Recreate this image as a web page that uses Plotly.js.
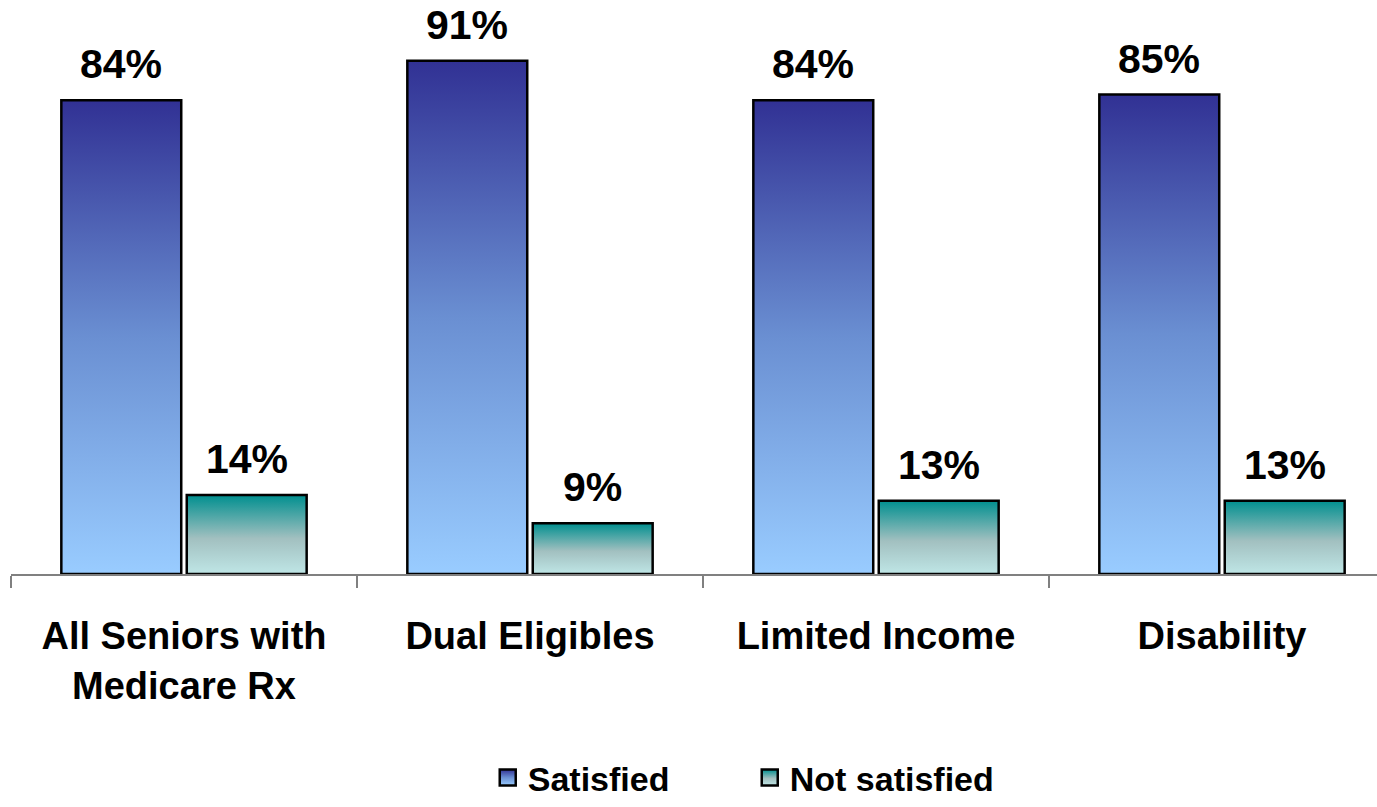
<!DOCTYPE html>
<html>
<head>
<meta charset="utf-8">
<script src="https://cdn.plot.ly/plotly-3.0.1.min.js"></script>
<style>
  html, body { margin: 0; padding: 0; background: #ffffff; }
  #chart { width: 1377px; height: 807px; }
</style>
</head>
<body>
<div id="chart"></div>
<script>
const categories = ["All Seniors with<br>Medicare Rx", "Dual Eligibles", "Limited Income", "Disability"];
const satisfied = [84, 91, 84, 85];
const notSatisfied = [14, 9, 13, 13];
const seriesNames = ["Satisfied", "Not satisfied"];

const FONT = "Liberation Sans, Arial, sans-serif";

const W = 1377, H = 807;
const margin = { l: 11, r: 0, t: 10, b: 233, autoexpand: false };
const xRange = [-0.5, 3.448];
const bargap = 0.275;

const traces = [
  {
    type: "bar", name: seriesNames[0], x: categories, y: satisfied,
    marker: { color: "#6688cc", line: { color: "#000000", width: 2.5 } },
    hoverinfo: "none"
  },
  {
    type: "bar", name: seriesNames[1], x: categories, y: notSatisfied,
    marker: { color: "#80b8b8", line: { color: "#000000", width: 2.5 } },
    hoverinfo: "none"
  }
];

// value labels placed over each bar, derived from the data arrays
const plotW = W - margin.l - margin.r;
const plotH = H - margin.t - margin.b;
const pxPerCat = plotW / (xRange[1] - xRange[0]);
const slotOffset = (1 - bargap) * pxPerCat / 4;
const annotations = [];
[satisfied, notSatisfied].forEach((vals, s) => {
  vals.forEach((v, i) => {
    annotations.push({
      x: categories[i], y: v, xref: "x", yref: "y",
      text: v + "%", showarrow: false,
      xanchor: "center", yanchor: "bottom",
      xshift: (s === 0 ? -1 : 1) * slotOffset, yshift: 11,
      font: { family: FONT, size: 41, color: "#000000", weight: 700 }
    });
  });
});

const layout = {
  width: W, height: H,
  margin: margin,
  paper_bgcolor: "#ffffff", plot_bgcolor: "#ffffff",
  barmode: "group", bargap: bargap, bargroupgap: 0.044,
  showlegend: true,
  font: { family: FONT, color: "#000000" },
  annotations: annotations,
  xaxis: {
    type: "category",
    range: xRange,
    automargin: false,
    showline: true, linecolor: "#808080", linewidth: 1.5,
    ticks: "outside", tickson: "boundaries", ticklen: 12, tickcolor: "#808080", tickwidth: 1.5,
    tickfont: { family: FONT, size: 38, color: "#000000", weight: 700 },
    ticklabelstandoff: 28,
    showgrid: false, zeroline: false, fixedrange: true
  },
  yaxis: {
    range: [0, 100], visible: false, showgrid: false, zeroline: false, fixedrange: true
  },
  legend: {
    orientation: "h", x: 0.349, xanchor: "left",
    y: -margin.b / plotH, yanchor: "bottom",
    font: { family: FONT, size: 34, color: "#000000", weight: 700 },
    itemwidth: 30, entrywidth: 217, entrywidthmode: "pixels",
    bgcolor: "rgba(0,0,0,0)", traceorder: "normal"
  }
};

function addGradients(gd) {
  const svg = gd.querySelector(".main-svg");
  const ns = "http://www.w3.org/2000/svg";
  let defs = svg.querySelector("defs");
  if (!defs) { defs = document.createElementNS(ns, "defs"); svg.insertBefore(defs, svg.firstChild); }
  const grads = [
    { id: "gradSat", stops: [[0, "#313194"], [0.5, "#6a8fd2"], [1, "#99ccff"]] },
    { id: "gradNot", stops: [[0, "#008f8f"], [0.55, "#a2c0c0"], [1, "#bfe6e6"]] }
  ];
  grads.forEach(g => {
    const lg = document.createElementNS(ns, "linearGradient");
    lg.setAttribute("id", g.id);
    lg.setAttribute("x1", "0"); lg.setAttribute("y1", "0");
    lg.setAttribute("x2", "0"); lg.setAttribute("y2", "1");
    g.stops.forEach(s => {
      const st = document.createElementNS(ns, "stop");
      st.setAttribute("offset", s[0]);
      st.setAttribute("stop-color", s[1]);
      lg.appendChild(st);
    });
    defs.appendChild(lg);
  });
  const ids = ["gradSat", "gradNot"];
  gd.querySelectorAll(".barlayer .trace.bars").forEach((tr, i) => {
    tr.querySelectorAll(".point path").forEach(p => { p.style.fill = "url(#" + ids[i] + ")"; });
  });
  gd.querySelectorAll(".legend .traces").forEach((tr, i) => {
    tr.querySelectorAll(".legendpoints path").forEach(p => {
      p.style.fill = "url(#" + ids[i] + ")";
      p.setAttribute("d", "M8,8H-8V-8H8Z");
    });
  });
}

Plotly.newPlot("chart", traces, layout, { staticPlot: true, displayModeBar: false }).then(addGradients);
</script>
</body>
</html>
